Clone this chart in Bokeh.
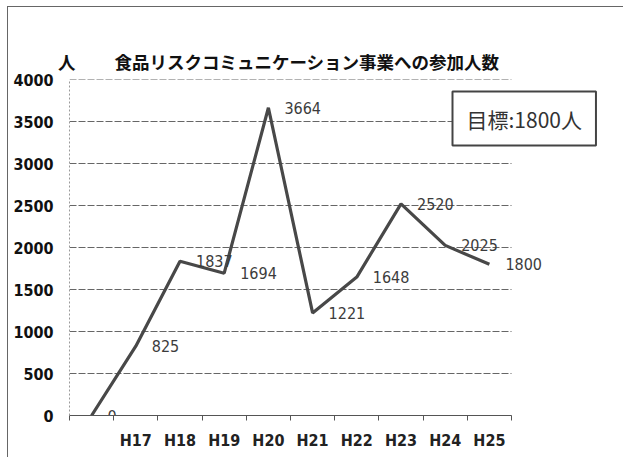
from bokeh.plotting import figure
from bokeh.models import ColumnDataSource, FixedTicker, Label, Range1d
from bokeh.core.properties import value
from bokeh.embed import file_html
from bokeh.resources import INLINE

categories = ["", "H17", "H18", "H19", "H20", "H21", "H22", "H23", "H24", "H25"]
participants = [0, 825, 1837, 1694, 3664, 1221, 1648, 2520, 2025, 1800]
y_ticks = [0, 500, 1000, 1500, 2000, 2500, 3000, 3500, 4000]
title_text = "人\u3000\u3000 食品リスクコミュニケーション事業への参加人数"
target_text = "目標:1800人"

n = len(categories)
xs = [i + 0.5 for i in range(n)]
src = ColumnDataSource(dict(x=xs, y=participants, lbl=[str(v) for v in participants]))
grid_src = ColumnDataSource(dict(x0=[0] * len(y_ticks), x1=[n] * len(y_ticks), y=y_ticks))

NUM = "DejaVu Sans Condensed"
CJK = "Noto Sans CJK JP"

# plotting frame: categories occupy 442 px, frame extends to 551 px to hold labels/box
FRAME_W, CAT_W = 551, 442

p = figure(width=616, height=451, output_backend="svg", toolbar_location=None,
           x_range=Range1d(0, n * FRAME_W / CAT_W), y_range=Range1d(0, 4000),
           min_border_left=61, min_border_right=4, min_border_top=72, min_border_bottom=43)
p.background_fill_color = "white"
p.border_fill_color = "white"
p.outline_line_color = None
p.styles = {"border-top": "1px solid #666", "border-left": "1px solid #666",
            "margin-left": "7px", "margin-top": "6px"}

p.title.text = title_text
p.title.align = "left"
p.title.vertical_align = "middle"
p.title.offset = -11.5
p.title.standoff = 10
p.title.text_font = CJK
p.title.text_font_style = "bold"
p.title.text_font_size = "17.5px"
p.title.text_color = "#111111"

p.xgrid.grid_line_color = None
p.ygrid.grid_line_color = None
p.segment("x0", "y", "x1", "y", source=grid_src, line_color="#666666",
          line_dash="7 2", line_width=1.2)

p.line("x", "y", source=src, line_color="#484848", line_width=3.2)
p.text("x", "y", text="lbl", source=src, x_offset=16, text_align="left", text_baseline="middle",
       text_font=value(NUM), text_font_size="16px", text_color="#3c3c3c")

p.yaxis.ticker = FixedTicker(ticks=y_ticks)
p.yaxis.major_tick_out = 0
p.yaxis.major_tick_in = 0
p.yaxis.minor_tick_out = 0
p.yaxis.major_label_standoff = 16
p.yaxis.axis_line_color = "#9a9a9a"
p.yaxis.axis_line_dash = "2 2"
p.yaxis.major_label_text_font = NUM
p.yaxis.major_label_text_font_style = "bold"
p.yaxis.major_label_text_font_size = "16px"
p.yaxis.major_label_text_color = "#111111"

p.xaxis.bounds = (0, n)
p.xaxis.ticker = FixedTicker(ticks=xs, minor_ticks=list(range(n + 1)))
p.xaxis.major_label_overrides = {x: c for x, c in zip(xs, categories)}
p.xaxis.major_tick_out = 0
p.xaxis.major_tick_in = 0
p.xaxis.minor_tick_out = 5
p.xaxis.minor_tick_in = 0
p.xaxis.minor_tick_line_color = "#555555"
p.xaxis.axis_line_color = "#555555"
p.xaxis.major_label_standoff = 10
p.xaxis.major_label_text_font = NUM
p.xaxis.major_label_text_font_style = "bold"
p.xaxis.major_label_text_font_size = "16px"
p.xaxis.major_label_text_color = "#222222"

p.add_layout(Label(x=383, y=297, x_units="screen", y_units="screen", text=target_text,
                   text_font=CJK, text_font_size="21px", text_align="left",
                   text_baseline="middle", text_color="#333333",
                   background_fill_color="white", border_line_color="#444444",
                   border_line_width=2, padding=(14, 12)))

open("out.html", "w").write(file_html(p, INLINE))
